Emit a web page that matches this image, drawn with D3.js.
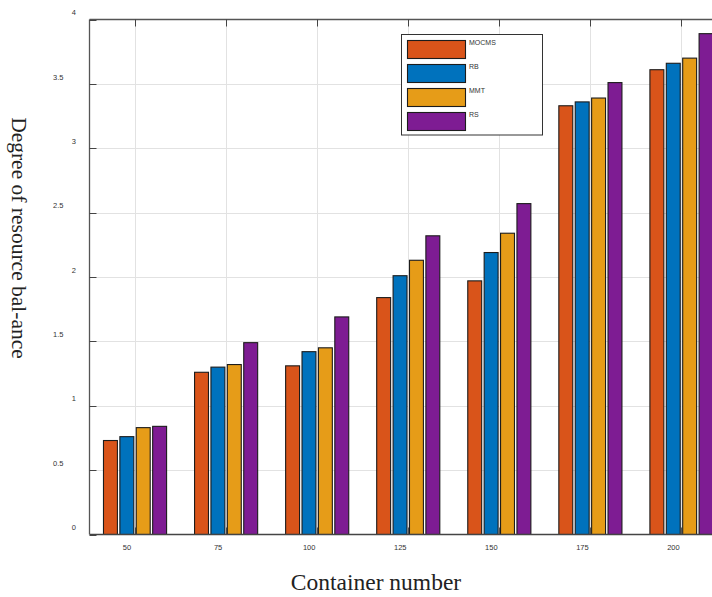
<!DOCTYPE html>
<html>
<head>
<meta charset="utf-8">
<script src="https://cdn.jsdelivr.net/npm/d3@7"></script>
<style>
  html, body { margin: 0; padding: 0; background: #fff; }
  svg { display: block; }
</style>
</head>
<body>
<svg id="chart" width="712" height="597"></svg>
<script>
// ---- data ----
const categories = ["50", "75", "100", "125", "150", "175", "200"];
const seriesNames = ["MOCMS", "RB", "MMT", "RS"];
const MOCMS = [0.73, 1.26, 1.31, 1.84, 1.97, 3.33, 3.61];
const RB    = [0.76, 1.30, 1.42, 2.01, 2.19, 3.36, 3.66];
const MMT   = [0.83, 1.32, 1.45, 2.13, 2.34, 3.39, 3.70];
const RS    = [0.84, 1.49, 1.69, 2.32, 2.57, 3.51, 3.89];
const yTicks = [0, 0.5, 1, 1.5, 2, 2.5, 3, 3.5, 4];
const colors = ["#D9541A", "#0072BD", "#E69C18", "#7E1C93"];

(function () {
const values = [MOCMS, RB, MMT, RS];

const svg = d3.select("#chart");
const pLeft = 89.5, pTop = 19.5, pBottom = 534.5, pRight = 727;

const x = d3.scaleLinear().domain([0.5, categories.length + 0.5]).range([pLeft, pRight]);
const y = d3.scaleLinear().domain([0, 4]).range([pBottom, pTop]);
const unit = x(1) - x(0);
const inner = d3.scaleBand().domain(seriesNames)
  .range([-0.36 * unit, 0.36 * unit]).paddingInner(0.15).paddingOuter(0.075);

svg.append("defs").append("clipPath").attr("id", "plotclip")
  .append("rect").attr("x", pLeft).attr("y", pTop).attr("width", pRight - pLeft).attr("height", pBottom - pTop);

const g = svg.append("g");
const px = v => Math.round(v) + 0.5;

// grid
g.append("g").selectAll("line").data(yTicks.slice(1, -1)).join("line")
  .attr("x1", pLeft).attr("x2", 712).attr("y1", d => px(y(d))).attr("y2", d => px(y(d)))
  .attr("stroke", "#e2e2e2").attr("stroke-width", 1);
g.append("g").selectAll("line").data(categories).join("line")
  .attr("x1", (d, i) => px(x(i + 1))).attr("x2", (d, i) => px(x(i + 1)))
  .attr("y1", pTop).attr("y2", pBottom)
  .attr("stroke", "#e2e2e2").attr("stroke-width", 1);

// bottom ticks (inward)
g.append("g").selectAll("line").data(categories).join("line")
  .attr("x1", (d, i) => px(x(i + 1))).attr("x2", (d, i) => px(x(i + 1)))
  .attr("y1", pBottom).attr("y2", pBottom - 7)
  .attr("stroke", "#555").attr("stroke-width", 1);

// bars
const groups = g.append("g").attr("clip-path", "url(#plotclip)")
  .selectAll("g").data(categories).join("g")
  .attr("transform", (d, i) => `translate(${x(i + 1)},0)`);
groups.selectAll("rect").data((d, i) => seriesNames.map((s, k) => ({ s, k, v: values[k][i] }))).join("rect")
  .attr("x", d => inner(d.s))
  .attr("width", inner.bandwidth())
  .attr("y", d => y(d.v))
  .attr("height", d => y(0) - y(d.v))
  .attr("fill", d => colors[d.k])
  .attr("stroke", "#1c1c1c").attr("stroke-width", 1.1);

// axes frame
g.append("line").attr("x1", pLeft).attr("x2", 712).attr("y1", pBottom).attr("y2", pBottom).attr("stroke", "#444").attr("stroke-width", 1.3);
g.append("line").attr("x1", pLeft).attr("x2", 712).attr("y1", pTop).attr("y2", pTop).attr("stroke", "#555").attr("stroke-width", 1.3);
g.append("line").attr("x1", pLeft).attr("x2", pLeft).attr("y1", pTop).attr("y2", pBottom).attr("stroke", "#555").attr("stroke-width", 1.3);

// y ticks inward
g.append("g").selectAll("line").data(yTicks).join("line")
  .attr("x1", pLeft).attr("x2", pLeft + 7)
  .attr("y1", d => px(y(d))).attr("y2", d => px(y(d)))
  .attr("stroke", "#444").attr("stroke-width", 1);
// top ticks inward
g.append("g").selectAll("line").data(categories).join("line")
  .attr("x1", (d, i) => px(x(i + 1))).attr("x2", (d, i) => px(x(i + 1)))
  .attr("y1", pTop).attr("y2", pTop + 7)
  .attr("stroke", "#444").attr("stroke-width", 1);

// y tick labels
g.append("g").selectAll("text").data(yTicks).join("text")
  .attr("x", d => Number.isInteger(d) ? 76 : 63.5)
  .attr("y", d => y(d) - 7)
  .attr("dy", "0.35em")
  .attr("text-anchor", "end")
  .attr("font-family", "Liberation Sans, Arial, sans-serif")
  .attr("font-size", 7.5)
  .attr("fill", "#333")
  .text(d => d3.format("~g")(d));

// x tick labels
g.append("g").selectAll("text").data(categories).join("text")
  .attr("x", (d, i) => x(i + 1) - 8)
  .attr("y", 547)
  .attr("dy", "0.35em")
  .attr("text-anchor", "middle")
  .attr("font-family", "Liberation Sans, Arial, sans-serif")
  .attr("font-size", 7.5)
  .attr("fill", "#333")
  .text(d => d);

// axis titles
svg.append("text")
  .attr("x", 376).attr("y", 590)
  .attr("text-anchor", "middle")
  .attr("font-family", "Liberation Serif, Times New Roman, serif")
  .attr("font-size", 23.5)
  .attr("fill", "#222")
  .text("Container number");
svg.append("text")
  .attr("transform", "translate(12,238) rotate(90)")
  .attr("text-anchor", "middle")
  .attr("font-family", "Liberation Serif, Times New Roman, serif")
  .attr("font-size", 21.5)
  .attr("fill", "#222")
  .text("Degree of resource bal-ance");

// legend
const lg = svg.append("g");
lg.append("rect").attr("x", 401.5).attr("y", 34.5).attr("width", 141).attr("height", 100.5)
  .attr("fill", "#fff").attr("stroke", "#333").attr("stroke-width", 1);
const items = lg.selectAll("g").data(seriesNames).join("g")
  .attr("transform", (d, i) => `translate(0,${40 + i * 24})`);
items.append("rect").attr("x", 407.5).attr("y", 0.5).attr("width", 58).attr("height", 18)
  .attr("fill", (d, i) => colors[i]).attr("stroke", "#1c1c1c").attr("stroke-width", 1.1);
items.append("text").attr("x", 469).attr("y", 3).attr("dy", "0.35em")
  .attr("font-family", "Liberation Sans, Arial, sans-serif")
  .attr("font-size", 7)
  .attr("fill", "#333")
  .text(d => d);
})();
</script>
</body>
</html>
